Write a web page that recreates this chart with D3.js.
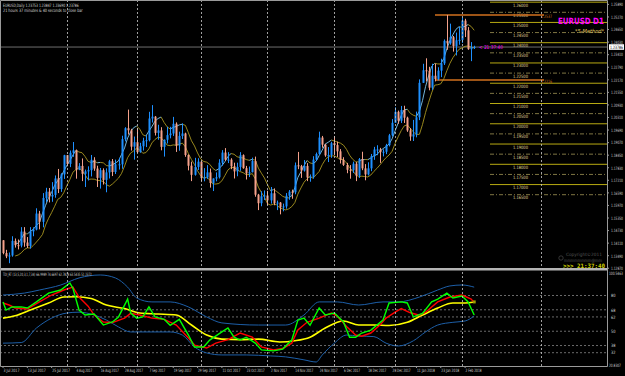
<!DOCTYPE html>
<html lang="en">
<head>
<meta charset="UTF-8" />
<title>EURUSD Daily</title>
<style>
  html, body { margin: 0; padding: 0; background: #000; }
  svg { display: block; font-family: "DejaVu Sans", sans-serif; }
</style>
</head>
<body>
<svg width="625" height="376"></svg>
<script src="https://d3js.org/d3.v7.min.js"></script>
<script>
// daily bars, 3 Jul 2017 .. 7 Feb 2018
const opens = [1.1425,1.1362,1.1346,1.1350,1.1422,1.1401,1.1399,1.1468,1.1414,1.1397,
1.1469,1.1478,1.1557,1.1516,1.1634,1.1665,1.1641,1.1649,1.1730,1.1678,
1.1750,1.1845,1.1802,1.1857,1.1869,1.1773,1.1792,1.1753,1.1765,1.1771,
1.1822,1.1779,1.1733,1.1771,1.1723,1.1760,1.1815,1.1762,1.1800,1.1800,
1.1924,1.1978,1.1968,1.1887,1.1909,1.1860,1.1889,1.1916,1.1919,1.2026,
1.2035,1.1955,1.1967,1.1886,1.1921,1.1944,1.1952,1.2000,1.1892,1.1940,
1.1952,1.1846,1.1793,1.1748,1.1787,1.1813,1.1732,1.1735,1.1760,1.1708,
1.1730,1.1736,1.1808,1.1858,1.1823,1.1823,1.1790,1.1765,1.1787,1.1845,
1.1781,1.1755,1.1761,1.1816,1.1650,1.1608,1.1642,1.1646,1.1622,1.1657,
1.1608,1.1611,1.1588,1.1592,1.1645,1.1665,1.1662,1.1795,1.1791,1.1769,
1.1792,1.1735,1.1738,1.1823,1.1851,1.1932,1.1897,1.1844,1.1846,1.1904,
1.1895,1.1864,1.1822,1.1797,1.1773,1.1771,1.1803,1.1744,1.1826,1.1780,
1.1750,1.1780,1.1840,1.1873,1.1873,1.1860,1.1862,1.1894,1.1943,1.2005,
1.2059,1.2015,1.2068,1.2030,1.1967,1.1937,1.1948,1.2032,1.2202,1.2264,
1.2261,1.2178,1.2237,1.2221,1.2262,1.2298,1.2409,1.2397,1.2427,1.2383,
1.2412,1.2414,1.2509,1.2461,1.2368,1.2375];
const highs = [1.1426,1.1378,1.1365,1.1445,1.1434,1.1429,1.1490,1.1490,1.1441,1.1490,
1.1489,1.1583,1.1570,1.1658,1.1684,1.1683,1.1712,1.1745,1.1777,1.1756,
1.1847,1.1846,1.1868,1.1910,1.1873,1.1806,1.1829,1.1774,1.1790,1.1846,
1.1835,1.1793,1.1782,1.1780,1.1780,1.1822,1.1826,1.1823,1.1832,1.1941,
1.1983,1.2070,1.1975,1.1937,1.1979,1.1906,1.1931,1.1945,1.2059,1.2092,
1.2038,1.1995,1.1983,1.1923,1.1985,1.1985,1.2034,1.2007,1.1961,1.2002,
1.1956,1.1849,1.1813,1.1832,1.1830,1.1814,1.1781,1.1796,1.1779,1.1731,
1.1760,1.1825,1.1870,1.1880,1.1860,1.1830,1.1808,1.1808,1.1860,1.1849,
1.1792,1.1789,1.1833,1.1838,1.1654,1.1667,1.1671,1.1669,1.1688,1.1681,
1.1621,1.1614,1.1606,1.1658,1.1673,1.1675,1.1809,1.1861,1.1797,1.1821,
1.1806,1.1750,1.1840,1.1858,1.1961,1.1940,1.1901,1.1885,1.1911,1.1939,
1.1912,1.1875,1.1835,1.1807,1.1796,1.1813,1.1811,1.1831,1.1862,1.1801,
1.1810,1.1851,1.1886,1.1894,1.1881,1.1874,1.1901,1.1950,1.2023,1.2081,
1.2065,1.2088,1.2089,1.2035,1.1979,1.2019,1.2060,1.2219,1.2296,1.2323,
1.2281,1.2296,1.2297,1.2279,1.2321,1.2416,1.2537,1.2494,1.2433,1.2450,
1.2480,1.2523,1.2518,1.2477,1.2403,1.2385];
const lows = [1.1356,1.1337,1.1312,1.1344,1.1389,1.1380,1.1390,1.1393,1.1387,1.1384,
1.1445,1.1474,1.1479,1.1489,1.1614,1.1612,1.1615,1.1635,1.1658,1.1664,
1.1728,1.1790,1.1786,1.1837,1.1729,1.1771,1.1717,1.1688,1.1720,1.1740,
1.1768,1.1688,1.1680,1.1700,1.1662,1.1730,1.1742,1.1752,1.1774,1.1778,
1.1913,1.1947,1.1868,1.1823,1.1856,1.1857,1.1868,1.1885,1.1913,1.2006,
1.1942,1.1921,1.1869,1.1838,1.1903,1.1928,1.1940,1.1861,1.1867,1.1925,
1.1837,1.1770,1.1717,1.1744,1.1772,1.1717,1.1716,1.1728,1.1685,1.1668,
1.1716,1.1730,1.1793,1.1816,1.1806,1.1776,1.1730,1.1741,1.1768,1.1778,
1.1725,1.1737,1.1760,1.1640,1.1574,1.1593,1.1624,1.1598,1.1606,1.1598,
1.1574,1.1553,1.1568,1.1581,1.1625,1.1630,1.1652,1.1776,1.1733,1.1764,
1.1717,1.1714,1.1729,1.1818,1.1846,1.1882,1.1837,1.1811,1.1832,1.1846,
1.1836,1.1804,1.1792,1.1756,1.1729,1.1757,1.1717,1.1733,1.1771,1.1721,
1.1745,1.1766,1.1822,1.1845,1.1807,1.1839,1.1850,1.1888,1.1937,1.2004,
1.2000,1.2004,1.2004,1.1960,1.1916,1.1915,1.1933,1.2018,1.2202,1.2209,
1.2165,1.2167,1.2209,1.2214,1.2230,1.2290,1.2365,1.2390,1.2356,1.2337,
1.2390,1.2399,1.2428,1.2365,1.2309,1.2369];
const closes = [1.1362,1.1346,1.1350,1.1422,1.1401,1.1399,1.1468,1.1414,1.1397,1.1469,
1.1478,1.1557,1.1516,1.1634,1.1665,1.1641,1.1649,1.1730,1.1678,1.1750,
1.1845,1.1802,1.1857,1.1869,1.1773,1.1792,1.1753,1.1765,1.1771,1.1822,
1.1779,1.1733,1.1771,1.1723,1.1760,1.1815,1.1762,1.1800,1.1800,1.1924,
1.1978,1.1968,1.1887,1.1909,1.1860,1.1889,1.1916,1.1919,1.2026,1.2035,
1.1955,1.1967,1.1886,1.1921,1.1944,1.1952,1.2000,1.1892,1.1940,1.1952,
1.1846,1.1793,1.1748,1.1787,1.1813,1.1732,1.1735,1.1760,1.1708,1.1730,
1.1736,1.1808,1.1858,1.1823,1.1823,1.1790,1.1765,1.1787,1.1845,1.1781,
1.1755,1.1761,1.1816,1.1650,1.1608,1.1642,1.1646,1.1622,1.1657,1.1608,
1.1611,1.1588,1.1592,1.1645,1.1665,1.1662,1.1795,1.1791,1.1769,1.1792,
1.1735,1.1738,1.1823,1.1851,1.1932,1.1897,1.1844,1.1846,1.1904,1.1895,
1.1864,1.1822,1.1797,1.1773,1.1771,1.1803,1.1744,1.1826,1.1780,1.1750,
1.1780,1.1840,1.1873,1.1873,1.1860,1.1862,1.1894,1.1943,1.2005,1.2059,
1.2015,1.2068,1.2030,1.1967,1.1937,1.1948,1.2032,1.2202,1.2264,1.2261,
1.2178,1.2237,1.2221,1.2262,1.2298,1.2409,1.2397,1.2427,1.2383,1.2412,
1.2414,1.2509,1.2461,1.2368,1.2377,1.2379];

// one label every 8 bars
const dateLabels = ["3 Jul 2017","13 Jul 2017","25 Jul 2017","4 Aug 2017","16 Aug 2017",
  "28 Aug 2017","7 Sep 2017","19 Sep 2017","29 Sep 2017","11 Oct 2017","23 Oct 2017",
  "2 Nov 2017","14 Nov 2017","24 Nov 2017","6 Dec 2017","18 Dec 2017","28 Dec 2017",
  "11 Jan 2018","23 Jan 2018","2 Feb 2018"];
const priceTicks = [1.2589,1.2527,1.2465,1.2403,1.2341,1.2279,1.2217,1.2155,1.2093,1.2031,
  1.1969,1.1907,1.1845,1.1783,1.1721,1.1659,1.1597,1.1535,1.1473,1.1411,1.1349,1.1287];
const levels = [1.26,1.255,1.25,1.245,1.24,1.235,1.23,1.225,1.22,1.215,1.21,1.205,
  1.20,1.195,1.19,1.185,1.18,1.175,1.17,1.165];
const separators = [21, 44, 65, 87, 109, 129, 151, 177];
const hiLine = 1.2537, loLine = 1.2216, bid = 1.23786;

// TDI sub window, [bar, value]
const tdiLevels = [80, 68, 62, 50, 38, 32];
const tdiGreen = [[0,74.6],[1,67.8],[3,70.4],[6,70.4],[8,69.5],[11,74.6],[15,82],[19,84.6],[22,90.5],
  [23,86],[25,67.8],[27,63.6],[30,64.5],[33,55.2],[36,57.8],[38,62],[41,77],[42,65.3],[44,61],
  [46,62],[48,70.4],[50,62],[53,60],[55,55],[58,60],[61,46.8],[63,36.8],[66,36.8],[68,42.6],
  [72,49.4],[74,52.7],[76,45],[78,42.6],[80,45],[83,40],[85,34.3],[89,33.5],[92,35],[95,42.6],
  [97,59.4],[99,61],[101,55],[104,69.5],[106,63.6],[109,65.3],[112,57.8],[114,45],[116,45],
  [118,48.5],[121,51],[125,59.4],[127,73.7],[131,74.6],[133,73.7],[135,62],[138,65],[141,74.6],
  [143,77],[146,82],[148,77.9],[151,79.5],[153,74.6],[155,63.6]];
const tdiRed = [[0,73.7],[2,72],[4,69.5],[8,68.6],[12,74.6],[16,80.4],[20,84.6],[23,87],[25,78.7],
  [28,71],[30,63.6],[33,57.8],[36,57.3],[40,61],[42,65],[45,63.6],[49,61],[53,60],[57,55.2],
  [61,44.3],[63,38.4],[67,35.9],[70,40],[74,43],[78,48.5],[82,45],[85,36.8],[89,34.3],[92,35.5],
  [95,40],[97,51],[100,57.5],[104,61],[108,65.3],[110,62.5],[113,54],[116,46.8],[118,45.8],
  [121,48.5],[124,55.2],[126,61],[129,66],[131,69],[134,65.5],[137,63.5],[139,66],[143,74.6],
  [147,78.7],[151,80.4],[154,77],[155,74]];
const tdiYellow = [[0,61],[4,63],[9,67.8],[15,73.7],[20,78.7],[24,79],[29,77.5],[34,72],[40,69],
  [45,65.3],[51,64.5],[57,63.6],[62,55.2],[67,46.8],[72,43.4],[78,43],[84,43.4],[91,41],[96,42],
  [101,45],[106,52.7],[112,58.6],[117,55.2],[122,55.2],[127,54.8],[133,57.5],[138,63.6],
  [143,69.5],[148,73.7],[152,73.7],[155,74.6]];
const tdiUpper = [[0,80.4],[7,82],[12,84.6],[19,88.8],[25,94.7],[32,97.2],[37,94.7],[41,87],
  [44,77.9],[49,74.6],[55,74.6],[61,70.4],[67,62],[72,57],[84,55.2],[93,55.2],[99,63.6],
  [104,74.6],[110,74.6],[117,72],[125,74.6],[130,74.6],[137,78.7],[143,84.6],[147,88],
  [151,88.8],[155,87]];
const tdiLower = [[0,40],[6,40.5],[11,52.7],[16,61],[21,65.3],[25,66],[30,63.6],[34,59.4],
  [38,53.6],[42,49.4],[49,49.4],[55,49.4],[59,46.8],[63,36.8],[67,31.8],[72,30.1],[80,30.1],
  [88,29.3],[93,28.5],[99,26],[103,24.2],[105,30],[109,40],[113,46.8],[117,46],[122,45.5],
  [126,40],[130,37.6],[135,42],[139,49.4],[143,55.2],[148,57.5],[152,58.6],[155,62.8]];

const svg = d3.select('svg');
const plotRight = 607, mainBottom = 268, subTop = 271, subBottom = 366;

const x = d3.scaleLinear().domain([0, 155]).range([3, 3 + 155 * 3.04]);
const y = d3.scaleLinear().domain([1.24, 1.165]).range([42.7, 194.7]);
const ySub = d3.scaleLinear().domain([20.8307, 100.5463]).range([subBottom, subTop]);

// MT4-like tiny text, squeezed horizontally to a given width
function label(g, tx, ty, str, size, fill, width, style) {
  const t = g.append('text').attr('font-size', size).attr('fill', fill).text(str);
  if (style) Object.entries(style).forEach(([k, v]) => t.attr(k, v));
  const s = width ? width / t.node().getComputedTextLength() : 1;
  t.attr('transform', `translate(${tx},${ty}) scale(${s},1)`);
  return t;
}

svg.append('rect').attr('width', 625).attr('height', 376).attr('fill', '#000');

const main = svg.append('g');
const sub = svg.append('g');

// period separators
svg.append('g').selectAll('line').data(separators).join('line')
  .attr('x1', d => Math.round(x(d)) + 0.5).attr('x2', d => Math.round(x(d)) + 0.5)
  .attr('y1', 0).attr('y2', subBottom)
  .attr('stroke', '#c8c8c8').attr('stroke-width', 0.8).attr('stroke-dasharray', '2,2');

// levels ladder
main.selectAll('line.lvl').data(levels).join('line')
  .attr('class', 'lvl')
  .attr('x1', 490).attr('x2', plotRight)
  .attr('y1', d => y(d)).attr('y2', d => y(d))
  .attr('stroke', (d, i) => i % 2 === 0 ? '#b8aa12' : '#a09454')
  .attr('stroke-width', (d, i) => i % 2 === 0 ? 1 : 0.8)
  .attr('stroke-dasharray', (d, i) => i % 2 === 0 ? null : '4,2,1,2');
levels.forEach(v => label(main, 513, y(v) + 4.5, v.toFixed(5), 4.5, '#e0d89a', 15));

// bid line
main.append('line').attr('x1', 0).attr('x2', plotRight)
  .attr('y1', y(bid)).attr('y2', y(bid)).attr('stroke', '#8a8a8a').attr('stroke-width', 0.8);

// high / low lines
[hiLine, loLine].forEach(v => {
  main.append('line').attr('x1', 435).attr('x2', 544)
    .attr('y1', y(v)).attr('y2', y(v)).attr('stroke', '#d2701e').attr('stroke-width', 1.6);
  label(main, 541, y(v) + 3, v.toFixed(4), 4.5, '#d2701e', 11);
});

// channel: 5-bar averages of highs and lows
const idx = d3.range(4, closes.length);
const upper = idx.map(i => [i, d3.mean(highs.slice(i - 4, i + 1))]);
const lower = idx.map(i => [i, d3.mean(lows.slice(i - 4, i + 1))]);
const line = d3.line().x(d => x(d[0])).y(d => y(d[1]));

main.append('path').datum(lower).attr('d', line)
  .attr('fill', 'none').attr('stroke', '#a89520').attr('stroke-width', 0.9);
upper.slice(1).forEach((p, k) => {
  const prev = upper[k];
  main.append('path').datum([prev, p]).attr('d', line)
    .attr('fill', 'none').attr('stroke', p[1] >= prev[1] ? '#7fc8f0' : '#a89520')
    .attr('stroke-width', 0.9);
});

// candles
const bars = main.append('g').selectAll('g').data(closes).join('g');
const col = (d, i) => d >= opens[i] ? '#1e90ff' : '#f4a08a';
bars.append('line')
  .attr('x1', (d, i) => Math.round(x(i)) + 0.5).attr('x2', (d, i) => Math.round(x(i)) + 0.5)
  .attr('y1', (d, i) => y(highs[i])).attr('y2', (d, i) => y(lows[i]))
  .attr('stroke', col).attr('stroke-width', 1);
bars.append('rect')
  .attr('x', (d, i) => Math.round(x(i)) - 0.5).attr('width', 2)
  .attr('y', (d, i) => y(Math.max(d, opens[i])))
  .attr('height', (d, i) => Math.max(1, Math.abs(y(d) - y(opens[i]))))
  .attr('fill', col);

// right price axis
const axis = svg.append('g');
priceTicks.forEach(v => {
  axis.append('line').attr('x1', plotRight).attr('x2', plotRight + 2)
    .attr('y1', y(v)).attr('y2', y(v)).attr('stroke', '#9a9a9a');
  label(axis, 611, Math.max(5, y(v) + 1.8), v.toFixed(5), 4.5, '#d0d0d0', 12);
});
axis.append('rect').attr('x', 609).attr('y', y(bid) - 2.8).attr('width', 15).attr('height', 5.6)
  .attr('fill', '#fff');
label(axis, 610, y(bid) + 1.8, bid.toFixed(5), 4.5, '#000', 13);

// TDI sub window
sub.selectAll('line').data(tdiLevels).join('line')
  .attr('x1', 0).attr('x2', plotRight)
  .attr('y1', d => ySub(d)).attr('y2', d => ySub(d))
  .attr('stroke', '#9a9a9a').attr('stroke-width', 0.7).attr('stroke-dasharray', '2,2');
const tline = d3.line().x(d => x(d[0])).y(d => ySub(d[1]));
const smooth = d3.line().x(d => x(d[0])).y(d => ySub(d[1])).curve(d3.curveMonotoneX);
[[tdiUpper, '#1d5fa8', 1, smooth], [tdiLower, '#1d5fa8', 1, smooth],
 [tdiYellow, '#ffff00', 1.6, smooth], [tdiRed, '#ff0000', 1.4, tline],
 [tdiGreen, '#00ff00', 1.4, tline]].forEach(([data, c, w, gen]) => {
  sub.append('path').datum(data).attr('d', gen)
    .attr('fill', 'none').attr('stroke', c).attr('stroke-width', w);
});
sub.append('rect').attr('x', x(155) - 1.5).attr('y', ySub(74.6) - 1.5)
  .attr('width', 3).attr('height', 3).attr('fill', '#a0a000');

label(sub, 3, 276, 'TDI_RT (13,5,20,3,1,7,34) 66.9989 74.6697 62.7828 63.5435 51.2372',
  4.5, '#d0d0d0', 89);
tdiLevels.forEach(v => label(sub, 611, ySub(v) + 1.8, String(v), 4.5, '#d0d0d0', 4.5));
label(sub, 609, subTop + 4, '100.5463', 4.5, '#d0d0d0', 14);
label(sub, 609, subBottom + 1, '20.8307', 4.5, '#d0d0d0', 12);

// frames
svg.append('rect').attr('x', 0).attr('y', mainBottom).attr('width', plotRight)
  .attr('height', 2.5).attr('fill', '#b4b4b4');
svg.append('path').attr('d', `M0.5,${subBottom + 0.5}V0.5H${plotRight + 0.5}V${subBottom + 0.5}H0.5`)
  .attr('fill', 'none').attr('stroke', '#9a9a9a').attr('stroke-width', 1);

// date axis
const dates = svg.append('g');
dateLabels.forEach((d, i) => {
  dates.append('line').attr('x1', x(i * 8)).attr('x2', x(i * 8))
    .attr('y1', subBottom).attr('y2', subBottom + 2).attr('stroke', '#9a9a9a');
  label(dates, x(i * 8) + 0.5, 372, d, 4.5, '#d0d0d0', d.length > 10 ? 18 : 16);
});

// info texts
label(svg, 3, 6.5, 'EURUSD,Daily  1.23753 1.23847 1.23690 1.23786', 4.5, '#d8d8d8', 76);
label(svg, 3, 12, '21 hours 37 minutes & 40 seconds to close bar', 4.5, '#d8d8d8', 80);
label(svg, 558, 24, 'EURUSD D1', 8.5, '#ff00ff', 46, { 'font-weight': 'bold' });
label(svg, 575, 33, '*5-Method*', 5.5, '#e0c860', 29, { 'font-style': 'italic' });
label(svg, 479, y(bid) + 2, '< 21:37:40', 5, '#ff00ff', 24);
label(svg, 566, 256, 'Copyright©2011', 4.5, '#555', 36);
label(svg, 564, 262, 'mmmmmmmm@mm', 4.5, '#555', 38);
svg.append('circle').attr('cx', 561).attr('cy', 258).attr('r', 2.2)
  .attr('fill', 'none').attr('stroke', '#555').attr('stroke-width', 0.6);
label(svg, 563, 267.5, '>>> 21:37:40', 6, '#d0d000', 42,
  { 'font-weight': 'bold', 'font-family': 'DejaVu Sans Mono' });
</script>
</body>
</html>
